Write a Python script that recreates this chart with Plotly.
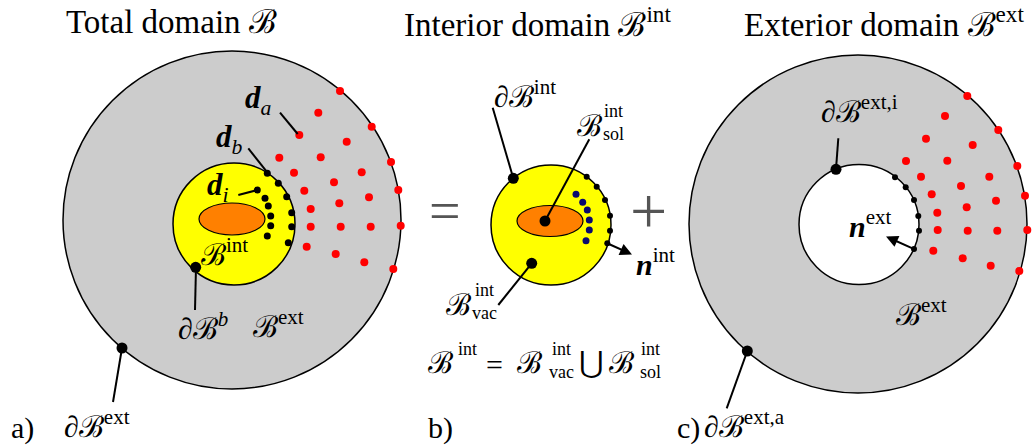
import plotly.graph_objects as go

W, H = 1035, 447
FONT = "Liberation Serif, DejaVu Serif, serif"

# ---------------- geometry (pixel-space data) ----------------
# circles: (cx, cy, r)
A_OUTER = (232, 220, 169)
A_INNER = (234, 224, 61)
A_SOLID = (232, 219, 33, 16)      # ellipse cx, cy, rx, ry
B_INNER = (551, 225, 60)
B_SOLID = (550, 221, 33, 15.5)
C_OUTER = (858, 224, 169)
C_HOLE = (859, 224.5, 60)

# red exterior points, panel a
a_red_x = [340, 371.7, 391, 398.3, 400.7, 393.3,
           318.3, 346.7, 361.7, 369, 370.7, 364.3,
           299.3, 320.7, 334, 339.3, 340.7, 335.7,
           279.3, 294, 304.3, 310.7, 310.7, 306.7]
a_red_y = [91, 126.7, 162, 190, 225.7, 269,
           112.7, 141.7, 172.3, 197.3, 226.7, 262.3,
           135, 157.3, 182.3, 203.3, 226.7, 254,
           157.7, 172.7, 190.7, 209, 226.7, 246.7]
# black boundary points, panel a
a_blk_x = [267.3, 278.3, 286.7, 291.7, 291.7, 288.3]
a_blk_y = [173.3, 183.3, 196.7, 212.7, 226.7, 242.7]
# interior points d_i, panel a
a_int_x = [257.3, 265, 268.3, 270.7, 270.7, 267.3]
a_int_y = [190, 198.3, 206, 216, 225.7, 236]

# panel b
b_blk_x = [586.7, 596.7, 605, 610, 610, 607.3]
b_blk_y = [176.7, 186.7, 200, 215.7, 230.7, 243.3]
b_blue_x = [576, 582.7, 587.3, 589.3, 589.3, 586]
b_blue_y = [194.3, 202.3, 210, 220, 230, 240.7]

# panel c
c_red_x = [967.3, 998.3, 1017.3, 1025, 1027.3, 1019.3,
           945, 972.7, 989.3, 996, 997.3, 990.7,
           926, 947.3, 961, 966.7, 967.7, 962.7,
           906, 921, 931.7, 937.3, 937.7, 933.3]
c_red_y = [96, 130, 166, 195.7, 230, 271,
           116, 145, 176.7, 200.7, 230.7, 265.7,
           138.7, 160.7, 186, 207.3, 230.7, 258.3,
           161, 176.7, 194.3, 212.7, 230, 250.7]
c_blk_x = [895, 905.7, 914, 918.3, 919, 914]
c_blk_y = [177.3, 187.3, 200, 216, 230.7, 249]

# big marker dots (boundary / region markers)
big_x = [195.7, 122, 513.3, 545, 531.7, 836, 747.3]
big_y = [267.3, 348, 178.3, 221, 263.3, 169.3, 351]

# leader lines: (x0, y0, x1, y1)
leaders = [
    (280, 112.7, 297.7, 134),
    (248.3, 148.3, 266.7, 171.7),
    (238.3, 195, 257.3, 190),
    (196, 267, 195, 310),
    (122, 348, 113, 402),
    (513.3, 178.3, 492.7, 107.7),
    (545, 221, 589.3, 139.3),
    (531.7, 263.3, 498.3, 305),
    (836, 169.3, 838.3, 138.3),
    (747.3, 351, 726.7, 408.3),
]
# arrows: (tail x, tail y, head x, head y)
arrows = [(607.3, 243.3, 632, 254.5), (914, 249, 886, 236.5)]

titles = ["Total domain ℬ", "Interior domain ℬ<sup>int</sup>", "Exterior domain ℬ<sup>ext</sup>"]
title_x = [64, 402, 742]

fig = go.Figure()

def circ(c, fill, line_w=1.5):
    cx, cy, r = c
    return dict(type="circle", xref="x", yref="y", x0=cx - r, x1=cx + r, y0=cy - r, y1=cy + r,
                fillcolor=fill, line=dict(color="black", width=line_w), layer="below")

def ell(e, fill):
    cx, cy, rx, ry = e
    return dict(type="circle", xref="x", yref="y", x0=cx - rx, x1=cx + rx, y0=cy - ry, y1=cy + ry,
                fillcolor=fill, line=dict(color="black", width=1.2), layer="below")

shapes = [circ(A_OUTER, "#cccccc"), circ(A_INNER, "#ffff00"), ell(A_SOLID, "#ff8000"),
          circ(B_INNER, "#ffff00"), ell(B_SOLID, "#ff8000"),
          circ(C_OUTER, "#cccccc"), circ(C_HOLE, "#ffffff")]
for (x0, y0, x1, y1) in leaders:
    shapes.append(dict(type="line", xref="x", yref="y", x0=x0, y0=y0, x1=x1, y1=y1,
                       line=dict(color="black", width=2)))

def pts(x, y, color, size):
    fig.add_trace(go.Scatter(x=x, y=y, mode="markers", hoverinfo="skip",
                             marker=dict(color=color, size=size, line=dict(width=0))))

pts(a_red_x, a_red_y, "#ff0000", 8)
pts(c_red_x, c_red_y, "#ff0000", 8)
pts(a_blk_x, a_blk_y, "black", 7)
pts(a_int_x, a_int_y, "black", 7)
pts(b_blk_x, b_blk_y, "black", 6)
pts(b_blue_x, b_blue_y, "#0a0a6e", 7)
pts(c_blk_x, c_blk_y, "black", 6)
pts(big_x, big_y, "black", 11)

ann = []

def txt(x, y, s, size=30, xanchor="left", yanchor="middle", color="black"):
    ann.append(dict(x=x, y=y, xref="x", yref="y", text=s, showarrow=False,
                    xanchor=xanchor, yanchor=yanchor,
                    font=dict(family=FONT, size=size, color=color)))

for t, x in zip(titles, title_x):
    txt(x, 22, t, size=33)

SS = 18  # size of stacked scripts (superscript over subscript)

# panel a labels
txt(243, 100, "<b><i>d</i></b><sub><i>a</i></sub>", size=31)
txt(214, 139, "<b><i>d</i></b><sub><i>b</i></sub>", size=31)
txt(205, 187, "<b><i>d</i></b><sub><i>i</i></sub>", size=31)
txt(199, 252, "ℬ<sup>int</sup>")
txt(176, 326, "∂ℬ<sup><i>b</i></sup>")
txt(251, 324, "ℬ<sup>ext</sup>")
txt(9, 428, "a)")
txt(62, 424, "∂ℬ<sup>ext</sup>")

# panel b labels
txt(445, 211, "=", size=56, xanchor="center", color="#555555")
txt(648, 210, "+", size=66, xanchor="center", color="#555555")
txt(492, 94, "∂ℬ<sup>int</sup>")
txt(575, 125, "ℬ")
txt(601, 122, "int<br>sol", size=SS)
txt(634, 262, "<b><i>n</i></b><sup>int</sup>")
txt(444, 304, "ℬ")
txt(470, 301, "int<br>vac", size=SS)
# union equation
txt(426, 362, "ℬ")
txt(456, 349, "int", size=SS)
txt(484, 364, "=")
txt(515, 362, "ℬ")
txt(547, 360, "int<br>vac", size=SS)
txt(577, 362, "⋃")
txt(607, 362, "ℬ")
txt(638, 360, "int<br>sol", size=SS)
txt(426, 428, "b)")

# panel c labels
txt(819, 109, "∂ℬ<sup>ext,i</sup>")
txt(847, 224, "<b><i>n</i></b><sup>ext</sup>")
txt(894, 312, "ℬ<sup>ext</sup>")
txt(675, 428, "c)")
txt(702, 424, "∂ℬ<sup>ext,a</sup>")

for (x0, y0, x1, y1) in arrows:
    ann.append(dict(x=x1, y=y1, ax=x0, ay=y0, xref="x", yref="y", axref="x", ayref="y",
                    text="", showarrow=True, arrowhead=2, arrowsize=1.2, arrowwidth=2,
                    arrowcolor="black"))

fig.update_layout(
    width=W, height=H, margin=dict(l=0, r=0, t=0, b=0),
    paper_bgcolor="white", plot_bgcolor="white", showlegend=False,
    xaxis=dict(range=[0, W], visible=False, fixedrange=True),
    yaxis=dict(range=[H, 0], visible=False, fixedrange=True),
    shapes=shapes, annotations=ann,
)
fig.write_html("out.html")
